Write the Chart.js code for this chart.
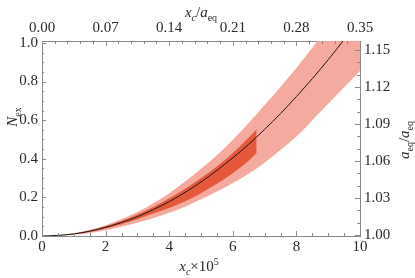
<!DOCTYPE html>
<html>
<head>
<meta charset="utf-8">
<script src="https://cdn.jsdelivr.net/npm/chart.js@4"></script>
<style>
  html, body { margin: 0; padding: 0; background: #fff; }
  #wrap { width: 415px; height: 278px; }
</style>
</head>
<body>
<div id="wrap"><canvas id="myChart"></canvas></div>
<script>
// values (x_c x 10^5 -> N_ex)
const xs = [0, 0.5, 1, 1.5, 2, 2.5, 3, 3.5, 4, 4.5, 5, 5.5, 6, 6.5, 7, 7.5, 8, 8.5, 9, 9.5, 10];
const curve = [0, 0.003, 0.011, 0.025, 0.045, 0.07, 0.1, 0.137, 0.178, 0.226, 0.28, 0.34, 0.405, 0.475, 0.552, 0.634, 0.722, 0.815, 0.913, 1.017, 1.126];
const bandHigh = [0, 0.004, 0.014, 0.031, 0.056, 0.088, 0.124, 0.17, 0.222, 0.282, 0.348, 0.418, 0.498, 0.585, 0.678, 0.772, 0.87, 0.975, 1.085, 1.2, 1.32];
const bandLow = [0, 0.002, 0.007, 0.016, 0.03, 0.048, 0.068, 0.093, 0.12, 0.152, 0.19, 0.23, 0.275, 0.322, 0.38, 0.445, 0.515, 0.6, 0.685, 0.77, 0.855];

const coreXs = [0, 0.5, 1, 1.5, 2, 2.5, 3, 3.5, 4, 4.5, 5, 5.5, 6, 6.5, 6.75];
const coreHigh = [0, 0.003, 0.012, 0.028, 0.05, 0.078, 0.111, 0.15, 0.195, 0.245, 0.3, 0.36, 0.43, 0.51, 0.553];
const coreLow = [0, 0.002, 0.009, 0.021, 0.039, 0.061, 0.087, 0.116, 0.145, 0.18, 0.222, 0.27, 0.325, 0.39, 0.43];

// tick labels
const bottomTicks = [0, 2, 4, 6, 8, 10];
const leftTicks = [0, 0.2, 0.4, 0.6, 0.8, 1.0];
const topTicks = [0, 0.07, 0.14, 0.21, 0.28, 0.35];
const rightTicks = [1.00, 1.03, 1.06, 1.09, 1.12, 1.15];

const pts = (xa, ya) => xa.map((x, i) => ({x: x, y: ya[i]}));

const light = 'rgb(244,170,158)';
const dark = 'rgb(229,88,60)';
const serif = '"Liberation Serif", "Times New Roman", serif';
const tickFont = {family: serif, size: 15};
const textColor = '#2a2a2a';
const frameColor = '#8a8a8a';

const setTicks = (arr) => (s) => { s.ticks = arr.map(v => ({value: v})); };

// inward tick marks with minor ticks
const tickMarks = {
  id: 'tickMarks',
  afterDraw(chart) {
    const c = chart.ctx, a = chart.chartArea, sc = chart.scales;
    c.save();
    c.strokeStyle = frameColor;
    c.lineWidth = 1;
    const line = (x1, y1, x2, y2) => { c.beginPath(); c.moveTo(x1, y1); c.lineTo(x2, y2); c.stroke(); };
    for (let i = 0; i <= 20; i++) {
      const px = Math.round(sc.x.getPixelForValue(i * 0.5)) + 0.5;
      line(px, a.bottom, px, a.bottom - (i % 4 === 0 ? 5 : 3));
    }
    for (let i = 0; i <= 25; i++) {
      const px = Math.round(sc.x2.getPixelForValue(i * 0.014)) + 0.5;
      line(px, a.top, px, a.top + (i % 5 === 0 ? 5 : 3));
    }
    for (let i = 0; i <= 20; i++) {
      const py = Math.round(sc.y.getPixelForValue(i * 0.05)) + 0.5;
      line(a.left, py, a.left + (i % 4 === 0 ? 4 : 2), py);
    }
    for (let i = 0; i <= 15; i++) {
      const py = Math.round(sc.y2.getPixelForValue(1 + i * 0.01)) + 0.5;
      line(a.right, py, a.right - (i % 3 === 0 ? 5 : 3), py);
    }
    c.restore();
  }
};

// axis titles with sub/superscripts
function drawRich(c, parts, x, y, size) {
  const fontOf = (p) => (p.it ? 'italic ' : '') + ((p.sub || p.sup) ? Math.round(size * 0.68) : size) + 'px ' + serif;
  let w = 0;
  parts.forEach(p => { c.font = fontOf(p); w += c.measureText(p.t).width; });
  let cx = x - w / 2;
  parts.forEach(p => {
    c.font = fontOf(p);
    const dy = p.sub ? size * 0.28 : (p.sup ? -size * 0.4 : 0);
    c.fillText(p.t, cx, y + dy);
    cx += c.measureText(p.t).width;
  });
}

const axisTitles = {
  id: 'axisTitles',
  afterDraw(chart) {
    const c = chart.ctx;
    c.save();
    c.fillStyle = textColor;
    c.textBaseline = 'alphabetic';
    c.textAlign = 'left';
    drawRich(c, [{t: 'x', it: true}, {t: 'c', it: true, sub: true}, {t: '/'}, {t: 'a', it: true}, {t: 'eq', sub: true}], 201, 17, 15);
    drawRich(c, [{t: 'x', it: true}, {t: 'c', it: true, sub: true}, {t: '\u00d710'}, {t: '5', sup: true}], 199, 271, 15);
    c.save();
    c.translate(17, 117);
    c.rotate(-Math.PI / 2);
    drawRich(c, [{t: 'N', it: true}, {t: 'ex', sub: true}], 0, 0, 15);
    c.restore();
    c.save();
    c.translate(409, 140);
    c.rotate(-Math.PI / 2);
    drawRich(c, [{t: 'a', it: true}, {t: 'eq', sub: true}, {t: '/'}, {t: 'a', it: true}, {t: 'eq', sub: true}], 0, 0, 15);
    c.restore();
    c.restore();
  }
};

const data = {
  datasets: [
    {data: pts(xs, bandLow), borderWidth: 0, pointRadius: 0, fill: false, order: 3, cubicInterpolationMode: 'monotone'},
    {data: pts(xs, bandHigh), borderWidth: 0, pointRadius: 0, fill: '-1', backgroundColor: light, order: 3, cubicInterpolationMode: 'monotone'},
    {data: pts(coreXs, coreLow), borderWidth: 0, pointRadius: 0, fill: false, order: 2, cubicInterpolationMode: 'monotone'},
    {data: pts(coreXs, coreHigh), borderWidth: 0, pointRadius: 0, fill: '-1', backgroundColor: dark, order: 2, cubicInterpolationMode: 'monotone'},
    {data: pts(xs, curve), borderColor: '#1a1a1a', borderWidth: 1, pointRadius: 0, fill: false, order: 1, cubicInterpolationMode: 'monotone'}
  ]
};

const config = {
  type: 'line',
  data: data,
  options: {
    responsive: false,
    animation: false,
    events: [],
    layout: {padding: 0},
    plugins: {legend: {display: false}, tooltip: {enabled: false}},
    scales: {
      x: {
        type: 'linear', position: 'bottom', min: 0, max: 10,
        afterBuildTicks: setTicks(bottomTicks),
        afterFit: s => { s.height = 42; },
        grid: {display: false, drawTicks: false},
        border: {display: true, color: frameColor},
        ticks: {font: tickFont, color: textColor, padding: 2, maxRotation: 0, callback: v => String(v)}
      },
      x2: {
        type: 'linear', position: 'top', min: 0, max: 0.35,
        afterBuildTicks: setTicks(topTicks),
        afterFit: s => { s.height = 41; },
        grid: {display: false, drawTicks: false},
        border: {display: true, color: frameColor},
        ticks: {font: tickFont, color: textColor, padding: 4, maxRotation: 0, callback: v => v.toFixed(2)}
      },
      y: {
        type: 'linear', position: 'left', min: 0, max: 1.01,
        afterBuildTicks: setTicks(leftTicks),
        afterFit: s => { s.width = 42; },
        grid: {display: false, drawTicks: false},
        border: {display: true, color: frameColor},
        ticks: {font: tickFont, color: textColor, padding: 4, callback: v => v.toFixed(1)}
      },
      y2: {
        type: 'linear', position: 'right', min: 0.9992, max: 1.1573,
        afterBuildTicks: setTicks(rightTicks),
        afterFit: s => { s.width = 55; },
        grid: {display: false, drawTicks: false},
        border: {display: true, color: frameColor},
        ticks: {font: tickFont, color: textColor, padding: 4, callback: v => v.toFixed(2)}
      }
    }
  },
  plugins: [tickMarks, axisTitles]
};

const canvas = document.getElementById('myChart');
canvas.width = 415;
canvas.height = 278;
const myChart = new Chart(canvas, config);
</script>
</body>
</html>
